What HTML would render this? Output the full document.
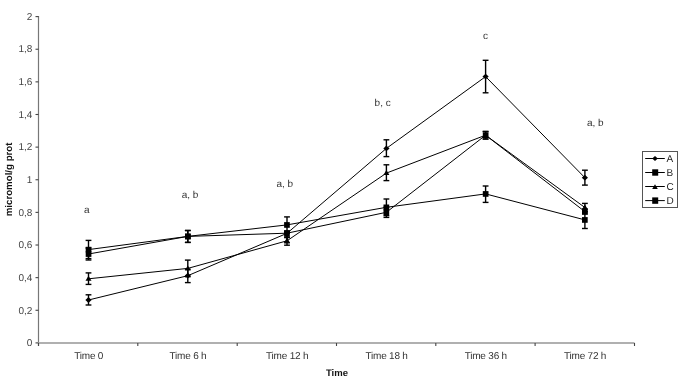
<!DOCTYPE html><html><head><meta charset="utf-8"><style>
html,body{margin:0;padding:0;background:#fff;}
svg{display:block;font-family:"Liberation Sans",sans-serif;text-rendering:geometricPrecision;}
</style></head><body>
<div style="will-change:transform;width:685px;height:380px">
<svg width="685" height="380" viewBox="0 0 685 380">
<line x1="38.5" y1="16.1" x2="38.5" y2="346" stroke="#777" stroke-width="1.2"/>
<line x1="38" y1="343" x2="634.5" y2="343" stroke="#b0b0b0" stroke-width="2"/>
<line x1="35.5" y1="16.60" x2="38.5" y2="16.60" stroke="#444" stroke-width="1.1"/>
<line x1="35.5" y1="49.23" x2="38.5" y2="49.23" stroke="#444" stroke-width="1.1"/>
<line x1="35.5" y1="81.86" x2="38.5" y2="81.86" stroke="#444" stroke-width="1.1"/>
<line x1="35.5" y1="114.49" x2="38.5" y2="114.49" stroke="#444" stroke-width="1.1"/>
<line x1="35.5" y1="147.12" x2="38.5" y2="147.12" stroke="#444" stroke-width="1.1"/>
<line x1="35.5" y1="179.75" x2="38.5" y2="179.75" stroke="#444" stroke-width="1.1"/>
<line x1="35.5" y1="212.38" x2="38.5" y2="212.38" stroke="#444" stroke-width="1.1"/>
<line x1="35.5" y1="245.01" x2="38.5" y2="245.01" stroke="#444" stroke-width="1.1"/>
<line x1="35.5" y1="277.64" x2="38.5" y2="277.64" stroke="#444" stroke-width="1.1"/>
<line x1="35.5" y1="310.27" x2="38.5" y2="310.27" stroke="#444" stroke-width="1.1"/>
<line x1="35.5" y1="342.90" x2="38.5" y2="342.90" stroke="#444" stroke-width="1.1"/>
<text x="32.3" y="19.8" font-size="10" fill="#444" text-anchor="end">2</text>
<text x="32.3" y="52.4" font-size="10" fill="#444" text-anchor="end">1,8</text>
<text x="32.3" y="85.1" font-size="10" fill="#444" text-anchor="end">1,6</text>
<text x="32.3" y="117.7" font-size="10" fill="#444" text-anchor="end">1,4</text>
<text x="32.3" y="150.3" font-size="10" fill="#444" text-anchor="end">1,2</text>
<text x="32.3" y="182.9" font-size="10" fill="#444" text-anchor="end">1</text>
<text x="32.3" y="215.6" font-size="10" fill="#444" text-anchor="end">0,8</text>
<text x="32.3" y="248.2" font-size="10" fill="#444" text-anchor="end">0,6</text>
<text x="32.3" y="280.8" font-size="10" fill="#444" text-anchor="end">0,4</text>
<text x="32.3" y="313.5" font-size="10" fill="#444" text-anchor="end">0,2</text>
<text x="32.3" y="346.1" font-size="10" fill="#444" text-anchor="end">0</text>
<line x1="38.5" y1="343" x2="38.5" y2="346" stroke="#444" stroke-width="1.1"/>
<line x1="137.8" y1="343" x2="137.8" y2="346" stroke="#444" stroke-width="1.1"/>
<line x1="237.2" y1="343" x2="237.2" y2="346" stroke="#444" stroke-width="1.1"/>
<line x1="336.5" y1="343" x2="336.5" y2="346" stroke="#444" stroke-width="1.1"/>
<line x1="435.8" y1="343" x2="435.8" y2="346" stroke="#444" stroke-width="1.1"/>
<line x1="535.1" y1="343" x2="535.1" y2="346" stroke="#444" stroke-width="1.1"/>
<line x1="634.5" y1="343" x2="634.5" y2="346" stroke="#444" stroke-width="1.1"/>
<text x="88.7" y="359.0" font-size="10" letter-spacing="-0.2" fill="#333" text-anchor="middle">Time 0</text>
<text x="188.0" y="359.0" font-size="10" letter-spacing="-0.2" fill="#333" text-anchor="middle">Time 6 h</text>
<text x="287.2" y="359.0" font-size="10" letter-spacing="-0.2" fill="#333" text-anchor="middle">Time 12 h</text>
<text x="386.6" y="359.0" font-size="10" letter-spacing="-0.2" fill="#333" text-anchor="middle">Time 18 h</text>
<text x="485.8" y="359.0" font-size="10" letter-spacing="-0.2" fill="#333" text-anchor="middle">Time 36 h</text>
<text x="585.1" y="359.0" font-size="10" letter-spacing="-0.2" fill="#333" text-anchor="middle">Time 72 h</text>
<text x="337" y="375.9" font-size="9.5" font-weight="bold" fill="#111" text-anchor="middle">Time</text>
<text transform="translate(12.0,179.4) rotate(-90)" font-size="9.7" font-weight="bold" fill="#111" text-anchor="middle">micromol/g prot</text>
<text x="84.0" y="212.9" font-size="10" fill="#333">a</text>
<text x="181.7" y="197.8" font-size="10" fill="#333">a, b</text>
<text x="276.4" y="186.8" font-size="10" fill="#333">a, b</text>
<text x="374.6" y="105.8" font-size="10" fill="#333">b, c</text>
<text x="482.9" y="39.0" font-size="10" fill="#333">c</text>
<text x="587.0" y="125.8" font-size="10" fill="#333">a, b</text>
<polyline points="88.5,300.0 187.8,275.7 287.0,233.3 386.4,148.4 485.6,76.6 584.9,177.7" fill="none" stroke="#000" stroke-width="1"/>
<polyline points="88.5,249.6 187.8,236.4 287.0,224.9 386.4,207.3 485.6,193.9 584.9,219.9" fill="none" stroke="#000" stroke-width="1"/>
<polyline points="88.5,278.8 187.8,268.4 287.0,240.8 386.4,173.1 485.6,135.2 584.9,207.5" fill="none" stroke="#000" stroke-width="1"/>
<polyline points="88.5,254.0 187.8,236.4 287.0,233.2 386.4,212.3 485.6,135.2 584.9,211.6" fill="none" stroke="#000" stroke-width="1"/>
<line x1="88.5" y1="294.8" x2="88.5" y2="305.0" stroke="#000" stroke-width="1.4"/><line x1="85.6" y1="294.8" x2="91.4" y2="294.8" stroke="#000" stroke-width="1.4"/><line x1="85.6" y1="305.0" x2="91.4" y2="305.0" stroke="#000" stroke-width="1.4"/><line x1="187.8" y1="269.2" x2="187.8" y2="282.6" stroke="#000" stroke-width="1.4"/><line x1="184.9" y1="269.2" x2="190.7" y2="269.2" stroke="#000" stroke-width="1.4"/><line x1="184.9" y1="282.6" x2="190.7" y2="282.6" stroke="#000" stroke-width="1.4"/><line x1="287.0" y1="231.5" x2="287.0" y2="242.8" stroke="#000" stroke-width="1.4"/><line x1="284.1" y1="231.5" x2="289.9" y2="231.5" stroke="#000" stroke-width="1.4"/><line x1="284.1" y1="242.8" x2="289.9" y2="242.8" stroke="#000" stroke-width="1.4"/><line x1="386.4" y1="139.8" x2="386.4" y2="156.6" stroke="#000" stroke-width="1.4"/><line x1="383.5" y1="139.8" x2="389.3" y2="139.8" stroke="#000" stroke-width="1.4"/><line x1="383.5" y1="156.6" x2="389.3" y2="156.6" stroke="#000" stroke-width="1.4"/><line x1="485.6" y1="60.3" x2="485.6" y2="92.8" stroke="#000" stroke-width="1.4"/><line x1="482.7" y1="60.3" x2="488.5" y2="60.3" stroke="#000" stroke-width="1.4"/><line x1="482.7" y1="92.8" x2="488.5" y2="92.8" stroke="#000" stroke-width="1.4"/><line x1="584.9" y1="170.2" x2="584.9" y2="185.1" stroke="#000" stroke-width="1.4"/><line x1="582.0" y1="170.2" x2="587.8" y2="170.2" stroke="#000" stroke-width="1.4"/><line x1="582.0" y1="185.1" x2="587.8" y2="185.1" stroke="#000" stroke-width="1.4"/>
<line x1="88.5" y1="240.4" x2="88.5" y2="258.6" stroke="#000" stroke-width="1.4"/><line x1="85.6" y1="240.4" x2="91.4" y2="240.4" stroke="#000" stroke-width="1.4"/><line x1="85.6" y1="258.6" x2="91.4" y2="258.6" stroke="#000" stroke-width="1.4"/><line x1="187.8" y1="230.5" x2="187.8" y2="242.4" stroke="#000" stroke-width="1.4"/><line x1="184.9" y1="230.5" x2="190.7" y2="230.5" stroke="#000" stroke-width="1.4"/><line x1="184.9" y1="242.4" x2="190.7" y2="242.4" stroke="#000" stroke-width="1.4"/><line x1="287.0" y1="216.9" x2="287.0" y2="232.9" stroke="#000" stroke-width="1.4"/><line x1="284.1" y1="216.9" x2="289.9" y2="216.9" stroke="#000" stroke-width="1.4"/><line x1="284.1" y1="232.9" x2="289.9" y2="232.9" stroke="#000" stroke-width="1.4"/><line x1="386.4" y1="199.0" x2="386.4" y2="215.6" stroke="#000" stroke-width="1.4"/><line x1="383.5" y1="199.0" x2="389.3" y2="199.0" stroke="#000" stroke-width="1.4"/><line x1="383.5" y1="215.6" x2="389.3" y2="215.6" stroke="#000" stroke-width="1.4"/><line x1="485.6" y1="186.0" x2="485.6" y2="202.4" stroke="#000" stroke-width="1.4"/><line x1="482.7" y1="186.0" x2="488.5" y2="186.0" stroke="#000" stroke-width="1.4"/><line x1="482.7" y1="202.4" x2="488.5" y2="202.4" stroke="#000" stroke-width="1.4"/><line x1="584.9" y1="212.0" x2="584.9" y2="228.5" stroke="#000" stroke-width="1.4"/><line x1="582.0" y1="212.0" x2="587.8" y2="212.0" stroke="#000" stroke-width="1.4"/><line x1="582.0" y1="228.5" x2="587.8" y2="228.5" stroke="#000" stroke-width="1.4"/>
<line x1="88.5" y1="272.9" x2="88.5" y2="284.4" stroke="#000" stroke-width="1.4"/><line x1="85.6" y1="272.9" x2="91.4" y2="272.9" stroke="#000" stroke-width="1.4"/><line x1="85.6" y1="284.4" x2="91.4" y2="284.4" stroke="#000" stroke-width="1.4"/><line x1="187.8" y1="260.1" x2="187.8" y2="276.7" stroke="#000" stroke-width="1.4"/><line x1="184.9" y1="260.1" x2="190.7" y2="260.1" stroke="#000" stroke-width="1.4"/><line x1="184.9" y1="276.7" x2="190.7" y2="276.7" stroke="#000" stroke-width="1.4"/><line x1="287.0" y1="236.8" x2="287.0" y2="245.2" stroke="#000" stroke-width="1.4"/><line x1="284.1" y1="236.8" x2="289.9" y2="236.8" stroke="#000" stroke-width="1.4"/><line x1="284.1" y1="245.2" x2="289.9" y2="245.2" stroke="#000" stroke-width="1.4"/><line x1="386.4" y1="164.8" x2="386.4" y2="180.6" stroke="#000" stroke-width="1.4"/><line x1="383.5" y1="164.8" x2="389.3" y2="164.8" stroke="#000" stroke-width="1.4"/><line x1="383.5" y1="180.6" x2="389.3" y2="180.6" stroke="#000" stroke-width="1.4"/><line x1="485.6" y1="131.5" x2="485.6" y2="139.0" stroke="#000" stroke-width="1.4"/><line x1="482.7" y1="131.5" x2="488.5" y2="131.5" stroke="#000" stroke-width="1.4"/><line x1="482.7" y1="139.0" x2="488.5" y2="139.0" stroke="#000" stroke-width="1.4"/><line x1="584.9" y1="203.4" x2="584.9" y2="211.5" stroke="#000" stroke-width="1.4"/><line x1="582.0" y1="203.4" x2="587.8" y2="203.4" stroke="#000" stroke-width="1.4"/><line x1="582.0" y1="211.5" x2="587.8" y2="211.5" stroke="#000" stroke-width="1.4"/>
<line x1="88.5" y1="248.0" x2="88.5" y2="260.0" stroke="#000" stroke-width="1.4"/><line x1="85.6" y1="248.0" x2="91.4" y2="248.0" stroke="#000" stroke-width="1.4"/><line x1="85.6" y1="260.0" x2="91.4" y2="260.0" stroke="#000" stroke-width="1.4"/><line x1="187.8" y1="230.5" x2="187.8" y2="242.4" stroke="#000" stroke-width="1.4"/><line x1="184.9" y1="230.5" x2="190.7" y2="230.5" stroke="#000" stroke-width="1.4"/><line x1="184.9" y1="242.4" x2="190.7" y2="242.4" stroke="#000" stroke-width="1.4"/><line x1="287.0" y1="231.0" x2="287.0" y2="237.6" stroke="#000" stroke-width="1.4"/><line x1="284.1" y1="231.0" x2="289.9" y2="231.0" stroke="#000" stroke-width="1.4"/><line x1="284.1" y1="237.6" x2="289.9" y2="237.6" stroke="#000" stroke-width="1.4"/><line x1="386.4" y1="207.3" x2="386.4" y2="217.4" stroke="#000" stroke-width="1.4"/><line x1="383.5" y1="207.3" x2="389.3" y2="207.3" stroke="#000" stroke-width="1.4"/><line x1="383.5" y1="217.4" x2="389.3" y2="217.4" stroke="#000" stroke-width="1.4"/><line x1="485.6" y1="131.5" x2="485.6" y2="139.0" stroke="#000" stroke-width="1.4"/><line x1="482.7" y1="131.5" x2="488.5" y2="131.5" stroke="#000" stroke-width="1.4"/><line x1="482.7" y1="139.0" x2="488.5" y2="139.0" stroke="#000" stroke-width="1.4"/><line x1="584.9" y1="209.0" x2="584.9" y2="214.0" stroke="#000" stroke-width="1.4"/><line x1="582.0" y1="209.0" x2="587.8" y2="209.0" stroke="#000" stroke-width="1.4"/><line x1="582.0" y1="214.0" x2="587.8" y2="214.0" stroke="#000" stroke-width="1.4"/>
<path d="M88.5 297.1L91.6 300.0L88.5 302.9L85.4 300.0Z" fill="#000"/>
<rect x="85.7" y="246.8" width="5.7" height="5.7" fill="#000"/>
<path d="M88.5 275.8L91.5 280.8L85.5 280.8Z" fill="#000"/>
<rect x="85.7" y="251.2" width="5.7" height="5.7" fill="#000"/>
<path d="M187.8 272.8L190.9 275.7L187.8 278.6L184.7 275.7Z" fill="#000"/>
<rect x="185.0" y="233.6" width="5.7" height="5.7" fill="#000"/>
<path d="M187.8 265.4L190.8 270.4L184.8 270.4Z" fill="#000"/>
<rect x="185.0" y="233.6" width="5.7" height="5.7" fill="#000"/>
<path d="M287.0 230.4L290.1 233.3L287.0 236.2L283.9 233.3Z" fill="#000"/>
<rect x="284.1" y="222.1" width="5.7" height="5.7" fill="#000"/>
<path d="M287.0 237.8L290.0 242.8L284.0 242.8Z" fill="#000"/>
<rect x="284.1" y="230.3" width="5.7" height="5.7" fill="#000"/>
<path d="M386.4 145.5L389.5 148.4L386.4 151.3L383.3 148.4Z" fill="#000"/>
<rect x="383.5" y="204.5" width="5.7" height="5.7" fill="#000"/>
<path d="M386.4 170.1L389.4 175.1L383.4 175.1Z" fill="#000"/>
<rect x="383.5" y="209.5" width="5.7" height="5.7" fill="#000"/>
<path d="M485.6 73.7L488.7 76.6L485.6 79.5L482.5 76.6Z" fill="#000"/>
<rect x="482.8" y="191.1" width="5.7" height="5.7" fill="#000"/>
<path d="M485.6 132.2L488.6 137.2L482.6 137.2Z" fill="#000"/>
<rect x="482.8" y="132.3" width="5.7" height="5.7" fill="#000"/>
<path d="M584.9 174.8L588.0 177.7L584.9 180.6L581.8 177.7Z" fill="#000"/>
<rect x="582.0" y="217.1" width="5.7" height="5.7" fill="#000"/>
<path d="M584.9 204.5L587.9 209.5L581.9 209.5Z" fill="#000"/>
<rect x="582.0" y="208.8" width="5.7" height="5.7" fill="#000"/>
<rect x="642.5" y="151.5" width="35" height="56" fill="#fff" stroke="#555" stroke-width="1"/>
<line x1="645.2" y1="158.5" x2="664.8" y2="158.5" stroke="#000" stroke-width="1"/>
<path d="M655.0 156.0L657.8 158.5L655.0 161.0L652.2 158.5Z" fill="#000"/>
<text x="666.6" y="162.0" font-size="10" fill="#222">A</text>
<line x1="645.2" y1="172.5" x2="664.8" y2="172.5" stroke="#000" stroke-width="1"/>
<rect x="652.2" y="169.3" width="6" height="6.4" fill="#000"/>
<text x="666.6" y="176.0" font-size="10" fill="#222">B</text>
<line x1="645.2" y1="186.5" x2="664.8" y2="186.5" stroke="#000" stroke-width="1"/>
<path d="M655 184.2L657.8 188.9L652.2 188.9Z" fill="#000"/>
<text x="666.6" y="190.0" font-size="10" fill="#222">C</text>
<line x1="645.2" y1="200.6" x2="664.8" y2="200.6" stroke="#000" stroke-width="1"/>
<rect x="652.2" y="197.4" width="6" height="6.4" fill="#000"/>
<text x="666.6" y="204.0" font-size="10" fill="#222">D</text>
</svg></div></body></html>
